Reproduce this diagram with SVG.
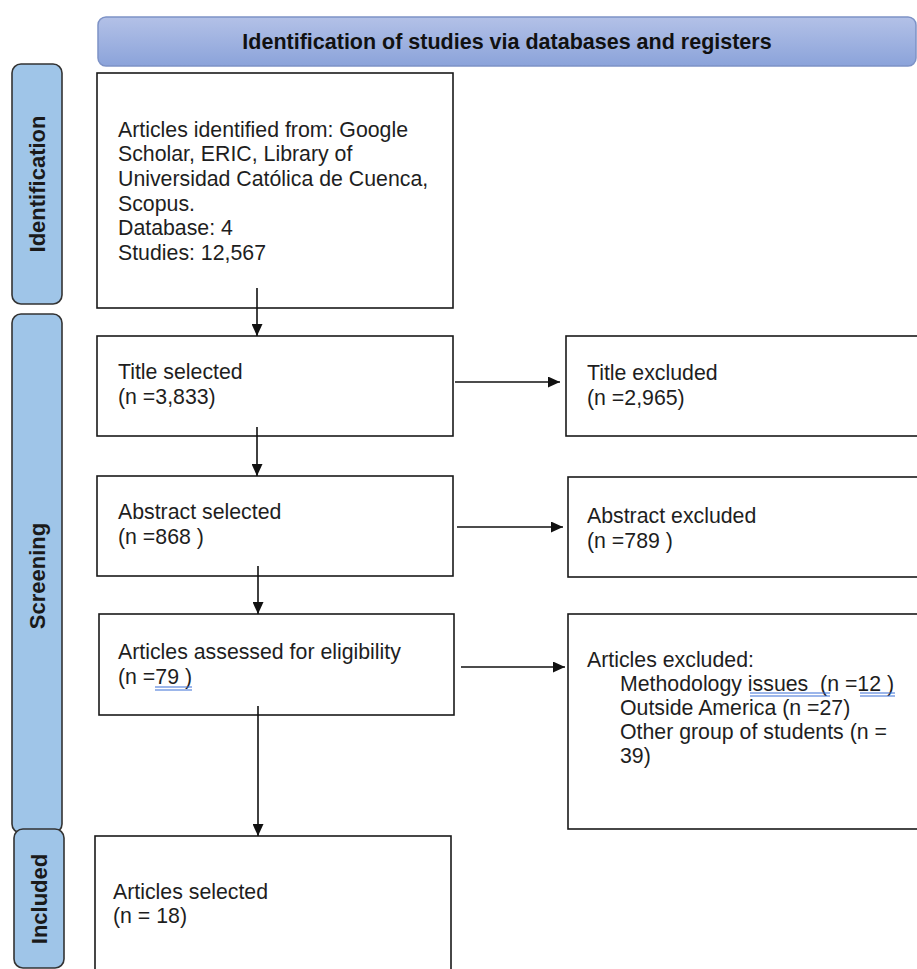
<svg xmlns="http://www.w3.org/2000/svg" width="917" height="969" viewBox="0 0 917 969">
<defs>
<linearGradient id="hdr" x1="0" y1="0" x2="0" y2="1">
<stop offset="0" stop-color="#b3c1e7"/>
<stop offset="1" stop-color="#8ba3da"/>
</linearGradient>
<marker id="ah" markerUnits="userSpaceOnUse" markerWidth="12" markerHeight="11" refX="12" refY="5.5" orient="auto">
<path d="M0,0 L12,5.5 L0,11 z" fill="#111"/>
</marker>
<style>
.box{fill:#fff;stroke:#1a1a1a;stroke-width:1.6}
.side{fill:#9fc5e8;stroke:#333;stroke-width:1.6}
.t{font-family:"Liberation Sans",Arial,sans-serif;font-size:21.3px;fill:#1e1e1e}
.h{font-family:"Liberation Sans",Arial,sans-serif;font-size:21.5px;font-weight:bold;fill:#111}
.s{font-family:"Liberation Sans",Arial,sans-serif;font-size:22px;font-weight:bold;fill:#1a1a1a}
.c{stroke:#111;stroke-width:1.6;fill:none}
.u{stroke:#3b6fd6;stroke-width:1.2;fill:none}
</style>
</defs>
<rect width="917" height="969" fill="#fff"/>

<g id="header">
<rect x="98" y="17" width="818" height="49" rx="8" fill="url(#hdr)" stroke="#7d92c6" stroke-width="1.5"/>
<text class="h" x="507" y="49" text-anchor="middle">Identification of studies via databases and registers</text>
</g>

<g id="side-identification">
<rect class="side" x="12" y="64" width="50" height="240" rx="9"/>
<text class="s" transform="translate(45,184) rotate(-90)" text-anchor="middle">Identification</text>
</g>
<g id="side-screening">
<rect class="side" x="12" y="314" width="50" height="519" rx="9"/>
<text class="s" transform="translate(45,576) rotate(-90)" text-anchor="middle">Screening</text>
</g>
<g id="side-included">
<rect class="side" x="14" y="829" width="50" height="139" rx="9"/>
<text class="s" transform="translate(47,899) rotate(-90)" text-anchor="middle">Included</text>
</g>

<g id="identified">
<rect class="box" x="97" y="73" width="356" height="235"/>
<text class="t" x="118" y="136.5">Articles identified from: Google</text>
<text class="t" x="118" y="161">Scholar, ERIC, Library of</text>
<text class="t" x="118" y="186">Universidad Católica de Cuenca,</text>
<text class="t" x="118" y="210.5">Scopus.</text>
<text class="t" x="118" y="235">Database: 4</text>
<text class="t" x="118" y="260">Studies: 12,567</text>
</g>

<g id="title-selected">
<rect class="box" x="97" y="336" width="356" height="100"/>
<text class="t" x="118" y="379">Title selected</text>
<text class="t" x="118" y="404">(n =3,833)</text>
</g>
<g id="title-excluded">
<rect class="box" x="566" y="336" width="360" height="100"/>
<text class="t" x="587" y="380">Title excluded</text>
<text class="t" x="587" y="405">(n =2,965)</text>
</g>

<g id="abstract-selected">
<rect class="box" x="97" y="476" width="356" height="100"/>
<text class="t" x="118" y="519">Abstract selected</text>
<text class="t" x="118" y="544">(n =868 )</text>
</g>
<g id="abstract-excluded">
<rect class="box" x="568" y="477" width="360" height="100"/>
<text class="t" x="587" y="523">Abstract excluded</text>
<text class="t" x="587" y="548">(n =789 )</text>
</g>

<g id="eligibility">
<rect class="box" x="99" y="614" width="355" height="101"/>
<text class="t" x="118" y="659">Articles assessed for eligibility</text>
<text class="t" x="118" y="684">(n =79 )</text>
<path class="u" d="M155,687 H192 M155,690 H192"/>
</g>
<g id="articles-excluded">
<rect class="box" x="568" y="614" width="360" height="215"/>
<text class="t" x="587" y="667">Articles excluded:</text>
<text class="t" x="620" y="691" xml:space="preserve">Methodology issues  (n =12 )</text>
<text class="t" x="620" y="715">Outside America (n =27)</text>
<text class="t" x="620" y="739">Other group of students (n =</text>
<text class="t" x="620" y="763">39)</text>
<path class="u" d="M750,693 H830 M750,696 H830 M860,693 H895 M860,696 H895"/>
</g>

<g id="articles-selected">
<rect class="box" x="95" y="836" width="356" height="150"/>
<text class="t" x="113" y="899">Articles selected</text>
<text class="t" x="113" y="923">(n = 18)</text>
</g>

<g id="connectors">
<line class="c" x1="257" y1="288" x2="257" y2="336" marker-end="url(#ah)"/>
<line class="c" x1="257" y1="427" x2="257" y2="476" marker-end="url(#ah)"/>
<line class="c" x1="258" y1="566" x2="258" y2="614" marker-end="url(#ah)"/>
<line class="c" x1="258" y1="706" x2="258" y2="836" marker-end="url(#ah)"/>
<line class="c" x1="455" y1="382" x2="560" y2="382" marker-end="url(#ah)"/>
<line class="c" x1="457" y1="527" x2="563" y2="527" marker-end="url(#ah)"/>
<line class="c" x1="461" y1="667" x2="565" y2="667" marker-end="url(#ah)"/>
</g>
</svg>
